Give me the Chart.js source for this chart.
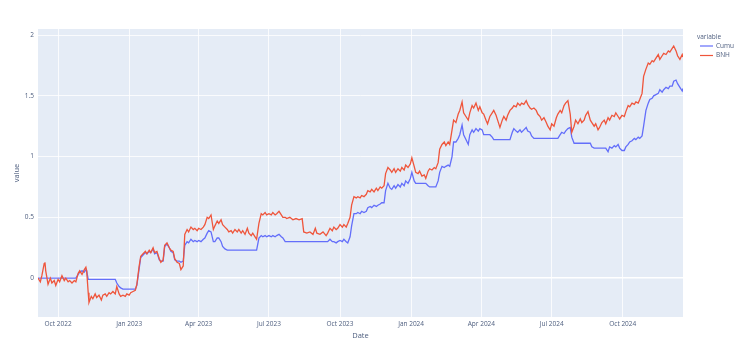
<!DOCTYPE html>
<html>
<head>
<meta charset="utf-8">
<script src="https://cdn.jsdelivr.net/npm/chart.js@4/dist/chart.umd.min.js"></script>
<style>
  html, body { margin: 0; padding: 0; background: #ffffff; }
  #wrap { position: relative; width: 740px; height: 356px; }
</style>
</head>
<body>
<div id="wrap"><canvas id="c" width="740" height="356"></canvas></div>
<script>
// ---- data ----
const START_DATE = '2022-09-05';           // first sample date (day offset 0)
const dayOffsets = [0,3,5,8,9,10,13,16,18,21,23,26,28,31,34,36,39,41,44,47,49,52,54,57,60,62,63,65,66,69,71,74,76,79,82,84,87,89,92,94,97,100,102,105,107,110,113,115,118,120,123,126,128,131,133,136,139,141,144,146,149,151,154,157,159,162,164,167,170,172,175,177,180,183,185,188,190,193,195,198,201,203,206,208,211,214,216,219,221,224,227,229,232,234,237,239,242,245,247,250,252,255,258,260,263,265,268,271,273,276,278,281,283,286,289,291,294,296,299,302,304,307,309,312,315,317,320,322,326,330,334,338,342,344,348,352,356,359,361,365,369,373,375,378,381,383,386,388,391,394,396,399,401,404,406,409,412,414,417,419,422,425,427,430,432,435,438,440,443,445,448,450,453,456,458,461,463,466,469,471,474,476,479,482,484,487,489,492,494,497,500,502,505,507,510,513,515,518,520,523,526,528,531,533,536,538,541,544,546,549,551,554,557,559,562,564,567,570,572,575,577,580,582,585,588,590,593,595,598,601,603,606,608,611,614,616,619,621,624,626,629,632,634,637,639,642,645,647,650,652,655,658,660,663,665,668,671,673,676,678,681,683,686,689,691,694,696,699,702,704,707,709,712,715,717,720,722,725,727,730,733,735,738,740,743,746,748,751,753,756,759,761,764,766,769,772,774,777,779,782,784,787,790,792,795,797,800,803,805,808,810,813,816,818,821,823,826,828,831,834,835];

const cumu = [0,0,0,0,0,0,0,0,0,0,0,0,0,0,0,0,0,0,0,0,0,0.03,0.05,0.06,0.05,0.07,0.06,-0.01,-0.01,-0.01,-0.01,-0.01,-0.01,-0.01,-0.01,-0.01,-0.01,-0.01,-0.01,-0.01,-0.01,-0.01,-0.04,-0.07,-0.08,-0.09,-0.09,-0.09,-0.09,-0.09,-0.09,-0.09,-0.06,0.08,0.17,0.19,0.21,0.20,0.22,0.21,0.24,0.20,0.21,0.15,0.14,0.14,0.26,0.28,0.25,0.22,0.21,0.15,0.14,0.14,0.13,0.14,0.27,0.30,0.29,0.32,0.30,0.31,0.30,0.31,0.30,0.32,0.33,0.37,0.39,0.38,0.30,0.30,0.33,0.33,0.30,0.26,0.24,0.23,0.23,0.23,0.23,0.23,0.23,0.23,0.23,0.23,0.23,0.23,0.23,0.23,0.23,0.23,0.23,0.33,0.35,0.34,0.35,0.34,0.35,0.34,0.35,0.34,0.35,0.36,0.34,0.33,0.30,0.30,0.30,0.30,0.30,0.30,0.30,0.30,0.30,0.30,0.30,0.30,0.30,0.30,0.30,0.30,0.30,0.32,0.30,0.30,0.29,0.30,0.31,0.30,0.32,0.30,0.29,0.34,0.43,0.53,0.53,0.54,0.53,0.55,0.54,0.55,0.58,0.59,0.58,0.60,0.59,0.60,0.61,0.62,0.62,0.72,0.78,0.74,0.73,0.76,0.74,0.77,0.75,0.78,0.76,0.80,0.78,0.82,0.87,0.80,0.78,0.78,0.78,0.78,0.78,0.78,0.76,0.75,0.75,0.75,0.75,0.80,0.87,0.92,0.91,0.92,0.93,0.92,1.00,1.12,1.12,1.15,1.18,1.26,1.18,1.14,1.10,1.18,1.22,1.20,1.23,1.21,1.23,1.22,1.18,1.18,1.18,1.18,1.16,1.14,1.14,1.14,1.14,1.14,1.14,1.14,1.14,1.14,1.20,1.23,1.21,1.20,1.22,1.20,1.22,1.24,1.21,1.20,1.17,1.15,1.15,1.15,1.15,1.15,1.15,1.15,1.15,1.15,1.15,1.15,1.15,1.15,1.18,1.20,1.19,1.21,1.23,1.24,1.16,1.11,1.11,1.11,1.11,1.11,1.11,1.11,1.11,1.11,1.08,1.07,1.07,1.07,1.07,1.07,1.07,1.07,1.04,1.08,1.07,1.09,1.08,1.10,1.07,1.05,1.05,1.08,1.10,1.12,1.13,1.15,1.14,1.16,1.15,1.17,1.25,1.38,1.44,1.47,1.48,1.50,1.51,1.52,1.55,1.53,1.55,1.57,1.56,1.58,1.58,1.62,1.63,1.60,1.57,1.54,1.56,1.53];

const bnh = [0,-0.03,0.02,0.12,0.13,0.06,-0.05,0,-0.04,-0.02,-0.06,-0.01,-0.03,0.02,-0.02,0,-0.03,-0.02,-0.04,-0.02,-0.03,0.04,0.06,0.03,0.07,0.09,0.06,-0.12,-0.20,-0.15,-0.17,-0.13,-0.16,-0.14,-0.18,-0.14,-0.13,-0.15,-0.12,-0.13,-0.11,-0.13,-0.07,-0.13,-0.15,-0.14,-0.15,-0.13,-0.14,-0.12,-0.11,-0.10,-0.05,0.10,0.18,0.20,0.22,0.20,0.23,0.21,0.25,0.21,0.22,0.16,0.13,0.15,0.27,0.29,0.25,0.23,0.22,0.16,0.13,0.12,0.07,0.10,0.36,0.40,0.38,0.42,0.40,0.41,0.39,0.41,0.40,0.42,0.44,0.50,0.49,0.52,0.40,0.43,0.47,0.45,0.48,0.44,0.42,0.40,0.38,0.39,0.37,0.40,0.38,0.40,0.37,0.39,0.36,0.41,0.37,0.35,0.37,0.34,0.32,0.45,0.53,0.52,0.54,0.52,0.53,0.52,0.54,0.52,0.53,0.55,0.52,0.50,0.50,0.49,0.50,0.48,0.49,0.48,0.49,0.38,0.37,0.38,0.36,0.41,0.37,0.36,0.38,0.35,0.37,0.41,0.39,0.42,0.40,0.41,0.44,0.42,0.44,0.42,0.45,0.50,0.60,0.67,0.66,0.67,0.66,0.68,0.67,0.69,0.72,0.71,0.73,0.71,0.74,0.72,0.75,0.74,0.76,0.86,0.91,0.89,0.87,0.90,0.87,0.90,0.88,0.91,0.89,0.93,0.91,0.94,0.99,0.92,0.87,0.86,0.88,0.84,0.85,0.82,0.88,0.90,0.89,0.91,0.90,0.95,1.06,1.10,1.12,1.09,1.12,1.10,1.22,1.30,1.28,1.35,1.38,1.45,1.36,1.33,1.30,1.36,1.42,1.40,1.44,1.38,1.41,1.36,1.35,1.30,1.27,1.33,1.36,1.38,1.34,1.30,1.24,1.30,1.33,1.30,1.34,1.38,1.40,1.42,1.41,1.44,1.42,1.44,1.43,1.46,1.43,1.40,1.39,1.40,1.38,1.35,1.33,1.30,1.32,1.28,1.25,1.22,1.27,1.25,1.32,1.35,1.38,1.36,1.42,1.44,1.46,1.35,1.20,1.25,1.30,1.27,1.31,1.28,1.30,1.34,1.37,1.30,1.28,1.25,1.27,1.22,1.24,1.28,1.30,1.27,1.32,1.30,1.34,1.33,1.36,1.33,1.31,1.34,1.33,1.37,1.42,1.41,1.44,1.43,1.45,1.44,1.47,1.52,1.66,1.72,1.77,1.76,1.79,1.78,1.81,1.84,1.80,1.83,1.85,1.84,1.87,1.86,1.89,1.91,1.87,1.83,1.80,1.84,1.82];

const seriesNames = ['Cumu', 'BNH'];
const xTickLabels = ['Oct 2022','Jan 2023','Apr 2023','Jul 2023','Oct 2023','Jan 2024','Apr 2024','Jul 2024','Oct 2024'];
const xTickDates  = ['2022-10-01','2023-01-01','2023-04-01','2023-07-01','2023-10-01','2024-01-01','2024-04-01','2024-07-01','2024-10-01'];
const yTickValues = [0, 0.5, 1, 1.5, 2];

// ---- helpers ----
function dayOf(iso) {
  const [y, m, d] = iso.split('-').map(Number);
  const [sy, sm, sd] = START_DATE.split('-').map(Number);
  return Math.round((Date.UTC(y, m - 1, d) - Date.UTC(sy, sm - 1, sd)) / 86400000);
}
const xTickDays = xTickDates.map(dayOf);
const COLORS = ['#636efa', '#ef553b'];
const FONT = '"Open Sans", "Noto Sans", sans-serif';
const TEXT = '#506080';

const plotBg = {
  id: 'plotBg',
  beforeDraw(chart) {
    const { ctx, chartArea: a } = chart;
    ctx.save();
    ctx.fillStyle = '#E5ECF6';
    ctx.fillRect(a.left, a.top, a.right - a.left, a.bottom - a.top);
    ctx.restore();
  }
};

const sideLegend = {
  id: 'sideLegend',
  afterDraw(chart) {
    const { ctx } = chart;
    const x0 = chart.chartArea.right + 14;
    ctx.save();
    ctx.font = '6.5px ' + FONT;
    ctx.fillStyle = TEXT;
    ctx.textBaseline = 'middle';
    ctx.textAlign = 'left';
    ctx.fillText('variable', x0, 37);
    chart.data.datasets.forEach((ds, i) => {
      const y = 46 + i * 9.5;
      ctx.strokeStyle = ds.borderColor;
      ctx.lineWidth = 1.2;
      ctx.beginPath();
      ctx.moveTo(x0 + 3, y);
      ctx.lineTo(x0 + 16, y);
      ctx.stroke();
      ctx.fillStyle = TEXT;
      ctx.fillText(ds.label, x0 + 19, y);
    });
    ctx.restore();
  }
};

const datasets = [cumu, bnh].map((vals, i) => ({
  label: seriesNames[i],
  data: vals.map((v, k) => ({ x: dayOffsets[k], y: v })),
  borderColor: COLORS[i],
  backgroundColor: COLORS[i],
  borderWidth: 1.3,
  pointRadius: 0,
  tension: 0,
  order: i === 0 ? 1 : 0
}));

new Chart(document.getElementById('c'), {
  type: 'line',
  data: { datasets },
  plugins: [plotBg, sideLegend],
  options: {
    responsive: false,
    animation: false,
    devicePixelRatio: 1,
    layout: { padding: { top: 29, right: 57, left: 0, bottom: 0 } },
    plugins: { legend: { display: false }, tooltip: { enabled: false } },
    scales: {
      x: {
        type: 'linear',
        min: 0,
        max: dayOffsets[dayOffsets.length - 1],
        afterBuildTicks(scale) { scale.ticks = xTickDays.map(v => ({ value: v })); },
        afterFit(scale) { scale.height = 39; },
        grid: { color: '#ffffff', lineWidth: 0.8, drawTicks: false },
        border: { display: false },
        ticks: {
          autoSkip: false, maxRotation: 0, padding: 3,
          color: TEXT, font: { family: FONT, size: 6.5 },
          callback(value) { const i = xTickDays.indexOf(value); return i >= 0 ? xTickLabels[i] : ''; }
        },
        title: { display: true, text: 'Date', color: TEXT, font: { family: FONT, size: 7.5 }, padding: { top: 0, bottom: 16 } }
      },
      y: {
        type: 'linear',
        min: -0.32,
        max: 2.05,
        afterBuildTicks(scale) { scale.ticks = yTickValues.map(v => ({ value: v })); },
        afterFit(scale) { scale.width = 38; },
        grid: {
          color: '#ffffff',
          lineWidth: ctx => (ctx.tick && ctx.tick.value === 0 ? 1.6 : 0.8),
          drawTicks: false
        },
        border: { display: false },
        ticks: {
          padding: 4, color: TEXT, font: { family: FONT, size: 6.5 },
          callback(value) { return String(value); }
        },
        title: { display: true, text: 'value', color: TEXT, font: { family: FONT, size: 7.5 }, padding: { top: 12, bottom: 0 } }
      }
    }
  }
});
</script>
</body>
</html>
